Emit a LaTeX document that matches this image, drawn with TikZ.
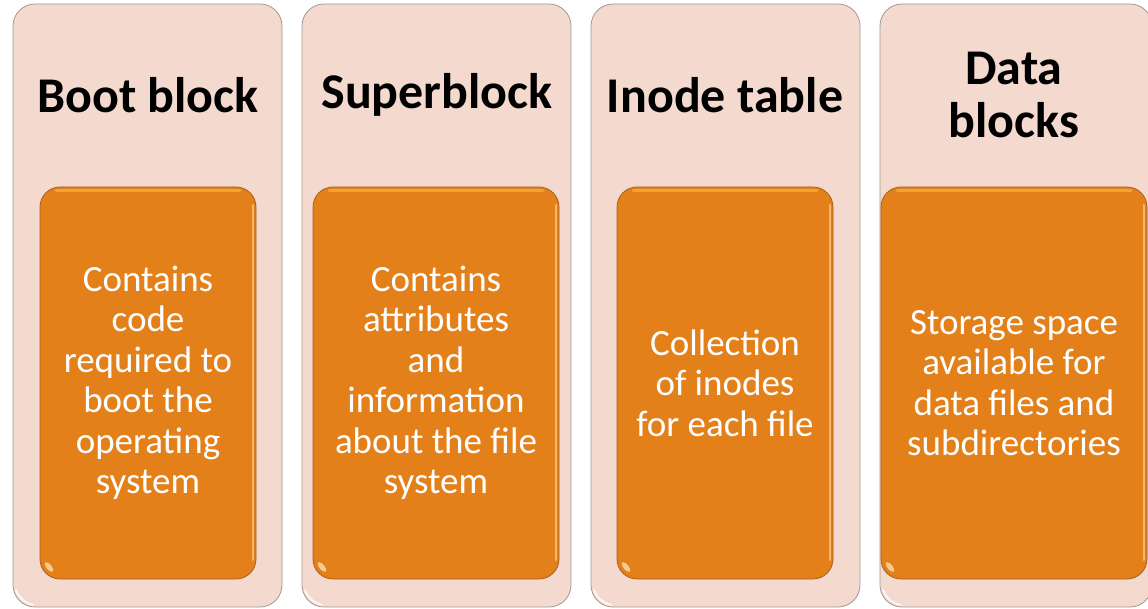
\documentclass[tikz,border=0pt]{standalone}
\usepackage{fontspec}
\setmainfont{Carlito}
\definecolor{panelfill}{HTML}{F4D9CE}
\definecolor{panelline}{HTML}{A39894}
\definecolor{cardfill}{HTML}{E3801A}
\definecolor{cardline}{HTML}{A8601C}
\definecolor{cardglow}{HTML}{F7B045}
\tikzset{
  panel/.style={draw=panelline, line width=0.8pt, fill=panelfill, rounded corners=22pt},
  card/.style={draw=cardline, line width=0.8pt, fill=cardfill, rounded corners=20pt},
  heading/.style={font=\bfseries\fontsize{50}{53}\selectfont, align=center, text=black, inner sep=0pt},
  cardtext/.style={font=\fontsize{37}{40.5}\selectfont, align=center, text=white, inner sep=0pt},
}
\begin{document}
\begin{tikzpicture}[x=1pt, y=-1pt]
  \useasboundingbox (0,0) rectangle (1148,609);
  \fill[white] (0,0) rectangle (1148,609);
  \clip (0,0) rectangle (1148,609);

  % one column per file system area: outer panel, inner card, highlights
  \foreach \name/\px/\pw/\cx/\cw in {boot/13/269/40/216, super/302/269/313/246, inode/591/269/617/216, data/880/272/881/266} {
    \path[panel] (\px,4) rectangle ++(\pw,603);
    \draw[white, line width=2pt, opacity=0.8, line cap=round]
      (\px+3,590) .. controls (\px+6,598) and (\px+12,603) .. (\px+20,605);
    \path[card] (\cx,187) rectangle ++(\cw,392);
    \draw[cardglow, line width=3pt, opacity=0.75, line cap=round]
      (\cx+16,191) -- (\cx+\cw-16,191);
    \draw[cardglow!60!white, line width=2pt, opacity=0.7, line cap=round]
      (\cx+\cw-3,205) -- (\cx+\cw-3,560);
    \fill[cardglow!50!white, opacity=0.85, rotate around={-50:(\cx+9,567)}]
      (\cx+9,567) ellipse (6pt and 2.5pt);
  }

  \node[heading] (bootH)  at (148,95) {Boot block};
  \node[heading] (superH) at (437,95) {Superblock};
  \node[heading] (inodeH) at (725,95) {Inode table};
  \node[heading] (dataH)  at (1014,95) {Data\\blocks};

  \node[cardtext] (bootT)  at (148,383) {Contains\\code\\required to\\boot the\\operating\\system};
  \node[cardtext] (superT) at (436,383) {Contains\\attributes\\and\\information\\about the file\\system};
  \node[cardtext] (inodeT) at (725,383) {Collection\\of inodes\\for each file};
  \node[cardtext] (dataT)  at (1014,383) {Storage space\\available for\\data files and\\subdirectories};
\end{tikzpicture}
\end{document}
